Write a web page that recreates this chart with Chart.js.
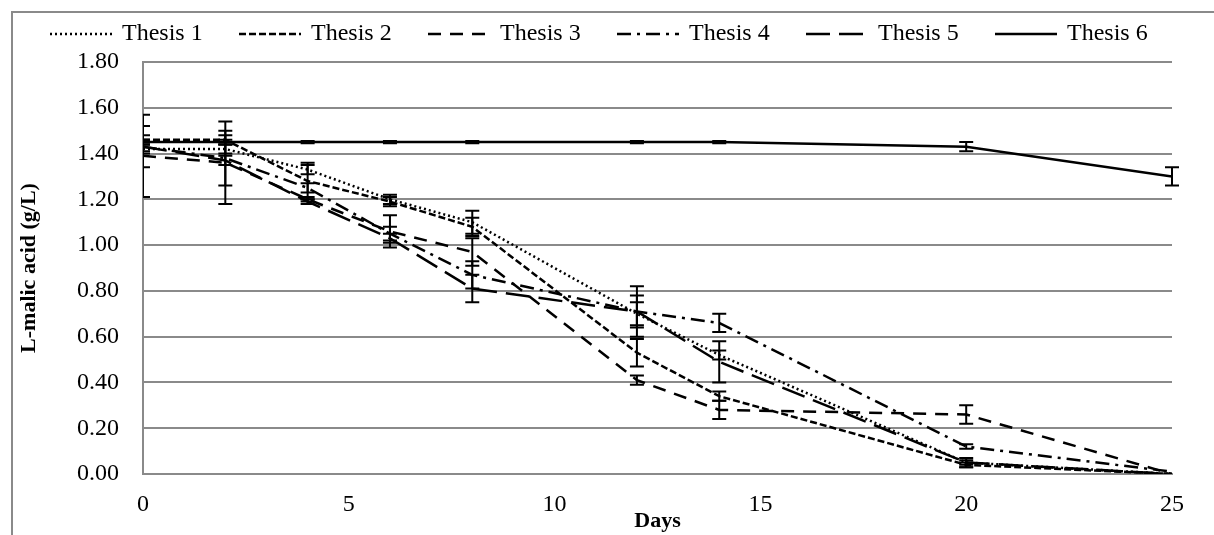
<!DOCTYPE html>
<html>
<head>
<meta charset="utf-8">
<script src="https://cdn.jsdelivr.net/npm/chart.js@4.4.0/dist/chart.umd.min.js"></script>
<style>
  html, body { margin: 0; padding: 0; background: #fff; }
  #wrap { width: 1214px; height: 535px; }
</style>
</head>
<body>
<div id="wrap"><canvas id="malicChart" width="1214" height="535"></canvas></div>
<script>
// sampling days
const days = [0, 2, 4, 6, 8, 12, 14, 20, 25];

// L-malic acid (g/L) per thesis
const thesis1 = [1.42, 1.42, 1.33, 1.20, 1.10, 0.70, 0.52, 0.05, 0.00];
const thesis2 = [1.46, 1.46, 1.28, 1.19, 1.08, 0.53, 0.34, 0.04, 0.00];
const thesis3 = [1.39, 1.36, 1.20, 1.06, 0.97, 0.41, 0.28, 0.26, 0.00];
const thesis4 = [1.43, 1.38, 1.25, 1.05, 0.87, 0.71, 0.66, 0.12, 0.01];
const thesis5 = [1.43, 1.37, 1.19, 1.03, 0.81, 0.71, 0.49, 0.05, 0.00];
const thesis6 = [1.45, 1.45, 1.45, 1.45, 1.45, 1.45, 1.45, 1.43, 1.30];

// standard deviations (error bars)
const err1 = [0.02, 0.02, 0.02, 0.02, 0.05, 0.05, 0.02, 0.01, 0.00];
const err2 = [0.02, 0.02, 0.08, 0.02, 0.04, 0.06, 0.02, 0.01, 0.00];
const err3 = [0.18, 0.18, 0.01, 0.07, 0.06, 0.02, 0.04, 0.04, 0.00];
const err4 = [0.09, 0.12, 0.02, 0.03, 0.06, 0.07, 0.04, 0.01, 0.00];
const err5 = [0.02, 0.02, 0.01, 0.02, 0.06, 0.11, 0.09, 0.02, 0.00];
const err6 = [0.01, 0.01, 0.005, 0.005, 0.005, 0.005, 0.005, 0.02, 0.04];

const seriesNames = ['Thesis 1', 'Thesis 2', 'Thesis 3', 'Thesis 4', 'Thesis 5', 'Thesis 6'];
const yTicks = [0, 0.2, 0.4, 0.6, 0.8, 1.0, 1.2, 1.4, 1.6, 1.8];

const seriesValues = [thesis1, thesis2, thesis3, thesis4, thesis5, thesis6];
const seriesErrors = [err1, err2, err3, err4, err5, err6];
const dashes = [[2, 3], [7, 3], [13, 9], [14, 6, 3, 6], [24, 9], []];

const FONT = "'Liberation Serif', 'Times New Roman', serif";
const GRID = '#8a8a8a';

const datasets = seriesValues.map(function (vals, i) {
    return {
        label: seriesNames[i],
        data: vals.map(function (v, j) { return { x: days[j], y: v }; }),
        errors: seriesErrors[i],
        borderColor: '#000',
        borderWidth: 2.5,
        borderDash: dashes[i],
        pointRadius: 0,
        tension: 0,
        fill: false
    };
});

// gray frame around the whole chart
const framePlugin = {
    id: 'frame',
    beforeDraw: function (chart) {
        const ctx = chart.ctx;
        ctx.save();
        ctx.fillStyle = '#fff';
        ctx.fillRect(0, 0, chart.width, chart.height);
        ctx.strokeStyle = GRID;
        ctx.lineWidth = 2;
        ctx.strokeRect(12, 12, chart.width + 20, chart.height + 20);
        ctx.restore();
    }
};

// vertical error bars with caps, clipped to the plot area
const errorBarPlugin = {
    id: 'errorBars',
    afterDatasetsDraw: function (chart) {
        const ctx = chart.ctx;
        const xs = chart.scales.x, ys = chart.scales.y;
        const area = chart.chartArea;
        ctx.save();
        ctx.beginPath();
        ctx.rect(area.left, area.top - 10, area.right - area.left + 10, area.bottom - area.top + 10);
        ctx.clip();
        ctx.strokeStyle = '#000';
        ctx.lineWidth = 2;
        chart.data.datasets.forEach(function (ds) {
            ds.data.forEach(function (p, j) {
                const e = ds.errors[j];
                if (!e) return;
                const px = xs.getPixelForValue(p.x);
                const top = ys.getPixelForValue(p.y + e);
                const bot = ys.getPixelForValue(p.y - e);
                ctx.beginPath();
                ctx.moveTo(px, top); ctx.lineTo(px, bot);
                ctx.moveTo(px - 7, top); ctx.lineTo(px + 7, top);
                ctx.moveTo(px - 7, bot); ctx.lineTo(px + 7, bot);
                ctx.stroke();
            });
        });
        ctx.restore();
    }
};

// legend row: line sample followed by its label
const legendPlugin = {
    id: 'lineLegend',
    afterDraw: function (chart) {
        const ctx = chart.ctx;
        const first = 50, step = 189, sampleLen = 62;
        const y = 34;
        ctx.save();
        ctx.font = '24px ' + FONT;
        ctx.textBaseline = 'middle';
        ctx.fillStyle = '#000';
        chart.data.datasets.forEach(function (ds, i) {
            const x0 = first + i * step;
            ctx.beginPath();
            ctx.setLineDash(ds.borderDash);
            ctx.lineWidth = 2.5;
            ctx.strokeStyle = '#000';
            ctx.moveTo(x0, y); ctx.lineTo(x0 + sampleLen, y);
            ctx.stroke();
            ctx.setLineDash([]);
            ctx.fillText(ds.label, x0 + sampleLen + 10, y);
        });
        ctx.restore();
    }
};

const ctx = document.getElementById('malicChart').getContext('2d');
new Chart(ctx, {
    type: 'line',
    data: { datasets: datasets },
    options: {
        responsive: false,
        animation: false,
        layout: { padding: { top: 62, right: 42, left: 12, bottom: 0 } },
        plugins: {
            legend: { display: false },
            tooltip: { enabled: false }
        },
        scales: {
            x: {
                type: 'linear',
                min: 0,
                max: 25,
                afterFit: function (s) { s.height = 61; },
                ticks: {
                    stepSize: 5,
                    padding: 16,
                    color: '#000',
                    font: { family: FONT, size: 24 }
                },
                grid: { display: false, drawTicks: false },
                border: { display: true, color: GRID, width: 2 },
                title: {
                    display: true,
                    text: 'Days',
                    color: '#000',
                    padding: { top: 0, bottom: 0 },
                    font: { family: FONT, size: 22, weight: 'bold' }
                }
            },
            y: {
                min: 0,
                max: 1.8,
                afterFit: function (s) { s.width = 131; },
                afterBuildTicks: function (s) {
                    s.ticks = yTicks.map(function (v) { return { value: v }; });
                },
                ticks: {
                    padding: 24,
                    color: '#000',
                    font: { family: FONT, size: 24 },
                    callback: function (v) { return Number(v).toFixed(2); }
                },
                grid: { color: GRID, lineWidth: 2, drawTicks: false },
                border: { display: true, color: GRID, width: 2 },
                title: {
                    display: true,
                    text: 'L-malic acid (g/L)',
                    color: '#000',
                    padding: { top: 4, bottom: 0 },
                    font: { family: FONT, size: 22, weight: 'bold' }
                }
            }
        }
    },
    plugins: [framePlugin, errorBarPlugin, legendPlugin]
});
</script>
</body>
</html>
